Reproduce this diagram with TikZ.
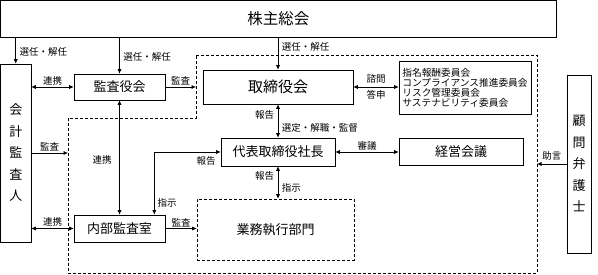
\documentclass[tikz,border=0pt]{standalone}
\usepackage{fontspec}
\setmainfont{Noto Sans CJK JP}
\usepackage{tikz}
\usetikzlibrary{arrows.meta, positioning, calc}

\tikzset{
    box/.style={draw, line width=0.6pt, inner sep=0pt, align=center},
    dbox/.style={box, dash pattern=on 3pt off 2pt},
    lbl/.style={font=\fontsize{9.5}{10}\selectfont, inner sep=1.5pt},
    ar/.style={-{Latex[length=4.5pt,width=4pt]}, line width=0.6pt},
    dar/.style={{Latex[length=4.5pt,width=4pt]}-{Latex[length=4.5pt,width=4pt]}, line width=0.6pt},
}

\begin{document}
\begin{tikzpicture}[x=1pt,y=-1pt]

        \useasboundingbox (0,0) rectangle (598,275);

        \coordinate (gL) at (196,55);
        \coordinate (gR) at (537,55);
        \coordinate (gLL) at (68,118);
        \draw[line width=0.6pt, dash pattern=on 3pt off 2pt] (gL) -- (gR) -- (537,273) -- (68,273) -- (gLL) -- (196,118) -- cycle;

        \node[box, minimum width=555.5pt, minimum height=36.5pt, font=\fontsize{15.5}{16}\selectfont] (soukai) at (278.25,18.75) {株主総会};
        \node[box, minimum width=30.5pt, minimum height=178pt, font=\fontsize{13}{21.5}\selectfont] (kaikei) at (15.75,153) {会\\計\\監\\査\\人};
        \node[box, minimum width=91pt, minimum height=26pt, font=\fontsize{13}{14}\selectfont] (kansa) at (119.5,87) {監査役会};
        \node[box, minimum width=150pt, minimum height=34pt, font=\fontsize{15}{16}\selectfont] (torishimari) at (278,87) {取締役会};
        \node[box, align=left, minimum width=132pt, minimum height=53pt, font=\fontsize{9.7}{10}\selectfont] (iinkai) at (465,87.5) {指名報酬委員会\\コンプライアンス推進委員会\\リスク管理委員会\\サステナビリティ委員会};
        \node[box, minimum width=114pt, minimum height=28pt, font=\fontsize{13}{14}\selectfont] (daihyo) at (278,152) {代表取締役社長};
        \node[box, minimum width=124pt, minimum height=27pt, font=\fontsize{13}{14}\selectfont] (keiei) at (461,151.5) {経営会議};
        \node[box, minimum width=24pt, minimum height=178pt, font=\fontsize{13}{21.5}\selectfont] (komon) at (579,164) {顧\\問\\弁\\護\\士};
        \node[box, minimum width=91pt, minimum height=27pt, font=\fontsize{13}{14}\selectfont] (naibu) at (119.5,228.5) {内部監査室};
        \node[dbox, minimum width=157pt, minimum height=61pt, font=\fontsize{13}{14}\selectfont] (gyomu) at (275.5,229.5) {業務執行部門};

        \draw[ar] (soukai.south -| kaikei.north) -- (kaikei.north) node[lbl, pos=0.55, right=2pt] (l1) {選任・解任};
        \draw[ar] (soukai.south -| kansa.north) -- (kansa.north) node[lbl, pos=0.55, right=2pt] (l2) {選任・解任};
        \draw[ar] (soukai.south -| torishimari.north) -- (torishimari.north) node[lbl, pos=0.3, right=2pt] (l3) {選任・解任};

        \draw[dar] (kaikei.east |- kansa.west) -- (kansa.west) node[lbl, midway, above] (l4) {連携};
        \draw[ar] (kansa.east) -- (kansa.east -| gL) node[lbl, midway, above] (l5) {監査};
        \draw[dar] (torishimari.east) -- (torishimari.east -| iinkai.west) node[lbl, midway, above=2pt] (l6) {諮問} node[lbl, midway, below=2pt] (l7) {答申};
        \draw[dar] (torishimari.south) -- (daihyo.north) node[lbl, pos=0.32, left=2pt] (l8) {報告} node[lbl, pos=0.7, right=2pt] (l9) {選定・解職・監督};
        \draw[dar] (daihyo.east) -- (daihyo.east -| keiei.west) node[lbl, midway, above] (l10) {審議};
        \draw[ar] (kaikei.east) -- (kaikei.east -| gLL) node[lbl, midway, above] (l11) {監査};
        \draw[dar] (kaikei.east |- naibu.west) -- (naibu.west) node[lbl, midway, above] (l12) {連携};
        \draw[dar] (kansa.south) -- (naibu.north) node[lbl, pos=0.52, left=6pt] (l13) {連携};
        \draw[dar] (daihyo.west) -| ([xshift=-11pt]naibu.north east);
        \node[lbl] (l14) at (206,161) {報告};
        \node[lbl] (l15) at (167,203) {指示};
        \draw[ar] (naibu.east) -- (naibu.east -| gyomu.west) node[lbl, midway, above] (l16) {監査};
        \draw[dar] (daihyo.south) -- (daihyo.south |- gyomu.north) node[lbl, pos=0.3, left=2pt] (l17) {報告} node[lbl, pos=0.67, right=2pt] (l18) {指示};
        \draw[ar] (komon.west) -- (komon.west -| gR) node[lbl, midway, above=2pt] (l19) {助言};

    \end{tikzpicture}
\end{document}
